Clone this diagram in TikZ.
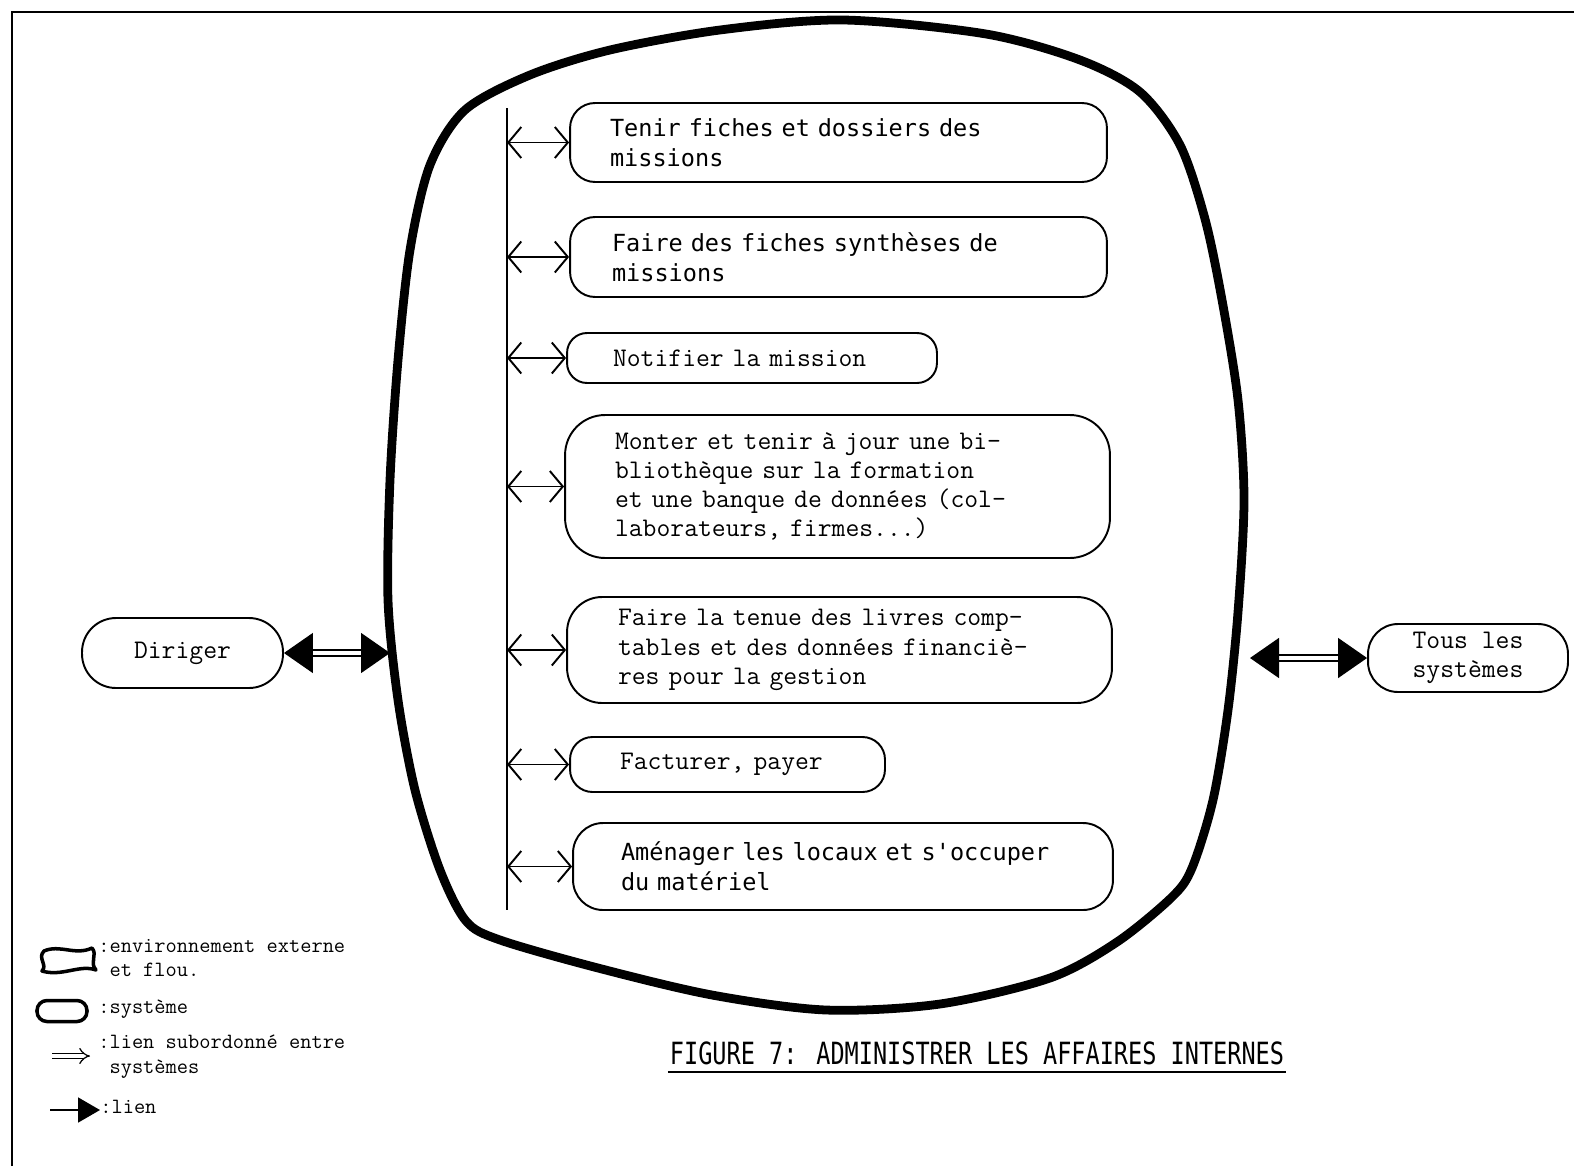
\documentclass[tikz,border=0pt]{standalone}
\usepackage{fontspec}
\newfontfamily\condfont{DejaVu Sans Mono}
\usetikzlibrary{arrows.meta}
\begin{document}
\begin{tikzpicture}[x=0.02cm,y=-0.02cm,
  sysbox/.style={draw, line width=1.1pt, align=left, inner xsep=0pt, inner ysep=0pt},
  courtext/.style={font=\ttfamily\fontsize{15.3}{16.6}\selectfont},
  condtext/.style={font=\condfont\fontsize{13.4}{17}\selectfont},
  legtext/.style={font=\ttfamily\fontsize{12.4}{14.2}\selectfont, align=left, inner sep=0pt, anchor=west},
  innerlink/.style={line width=0.75pt, {Straight Barb[length=0.26cm,width=0.62cm,line width=1.1pt]}-{Straight Barb[length=0.26cm,width=0.62cm,line width=1.1pt]}},
  mainlink/.style={double, double distance=2.4pt, line width=0.8pt, {Triangle[length=0.58cm,width=0.8cm]}-{Triangle[length=0.58cm,width=0.8cm]}}
]
\useasboundingbox (0,0) rectangle (1574,1166);
\fill[white] (0,0) rectangle (1574,1166);
% frame
\draw[line width=1.5pt] (12,1166) -- (12,12) -- (1574,12);
% main blob
\draw[line width=5pt, line join=round] plot[smooth cycle, tension=0.5] coordinates {
 (843,20) (986,34) (1080,60) (1140,92) (1180,145) (1205,219) (1222,300) (1238,400)
 (1244,500) (1238,612) (1228,710) (1213,800) (1192,868) (1172,897) (1117,942) (1050,978)
 (940,1004) (826,1010) (712,995) (598,968) (500,940) (466,921) (440,870) (415,790)
 (398,700) (388,600) (390,480) (398,360) (410,250) (430,165) (465,110) (530,75)
 (610,50) (720,30)};
% vertical line
\coordinate (vtop) at (507,108);
\coordinate (vbot) at (507,910);
\draw[line width=0.8pt] (vtop) -- (vbot);
% boxes
\node[sysbox, condtext, rounded corners=0.5cm, minimum width=10.74cm, minimum height=1.58cm, text width=9.14cm] (b1) at (838.5,142.5)
 {Tenir fiches et dossiers des\\missions};
\node[sysbox, condtext, rounded corners=0.5cm, minimum width=10.74cm, minimum height=1.6cm, text width=9.06cm] (b2) at (838.5,257)
 {Faire des fiches synthèses de\\missions};
\node[sysbox, courtext, rounded corners=0.4cm, minimum width=7.4cm, minimum height=1.0cm, text width=5.56cm] (b3) at (752,358)
 {Notifier la mission};
\node[sysbox, courtext, rounded corners=0.8cm, minimum width=10.9cm, minimum height=2.86cm, text width=8.9cm] (b4) at (837.5,486.5)
 {Monter et tenir à jour une bi-\\bliothèque sur la formation\\et une banque de données (col-\\laborateurs, firmes...)};
\node[sysbox, courtext, rounded corners=0.7cm, minimum width=10.9cm, minimum height=2.12cm, text width=8.86cm] (b5) at (839.5,650)
 {Faire la tenue des livres comp-\\tables et des données financiè-\\res pour la gestion};
\node[sysbox, courtext, rounded corners=0.45cm, minimum width=6.3cm, minimum height=1.1cm, text width=4.3cm] (b6) at (727.5,764.5)
 {Facturer, payer};
\node[sysbox, condtext, rounded corners=0.6cm, minimum width=10.8cm, minimum height=1.74cm, text width=8.88cm] (b7) at (843,866.5)
 {Aménager les locaux et s'occuper\\du matériel};
% inner links
\foreach \b in {b1,b2,b3,b4,b5,b6,b7}
  \draw[innerlink] (vtop |- \b.west) -- (\b.west);
% outer systems
\node[sysbox, courtext, align=center, rounded corners=0.68cm, minimum width=4.02cm, minimum height=1.4cm] (dir) at (182.5,653) {Diriger};
\node[sysbox, align=center, rounded corners=0.6cm, minimum width=4.0cm, minimum height=1.36cm, font=\ttfamily\fontsize{15.3}{16.4}\selectfont] (tous) at (1468,658) {Tous les\\systèmes};
\coordinate (bl) at (390,653);
\coordinate (br) at (1250,658);
\draw[mainlink] (dir.east) -- (bl);
\draw[mainlink] (br) -- (tous.west);
% title
\node[font=\condfont\fontsize{13.4}{16}\selectfont, inner sep=1pt] (title) at (977,1053)
 {\scalebox{1}[1.3]{FIGURE 7: ADMINISTRER LES AFFAIRES INTERNES}};
\draw[line width=0.8pt] ([yshift=-3pt]title.south west) -- ([yshift=-3pt]title.south east);
% legend
\draw[line width=2pt, line join=round] (44,951) .. controls (60,944) and (75,956) .. (92,948)
  .. controls (98,955) and (89,962) .. (96,970) .. controls (80,964) and (62,977) .. (42,971)
  .. controls (48,965) and (37,958) .. (44,951) -- cycle;
\node[legtext] (l1) at (98,958) {:environnement externe\\\phantom{:}et flou.};
\node[draw, line width=2pt, rounded corners=0.2cm, minimum width=1.0cm, minimum height=0.42cm, inner sep=0pt] (legsys) at (62,1011) {};
\node[legtext] (l2) at (98,1009) {:système};
\coordinate (la) at (52,1056);
\coordinate (lb) at (90,1056);
\draw[double, double distance=2.5pt, line width=0.7pt, -{Implies}] (la) -- (lb);
\node[legtext] (l3) at (98,1057) {:lien subordonné entre\\\phantom{:}systèmes};
\coordinate (lc) at (50,1110);
\coordinate (ld) at (100,1110);
\draw[line width=1pt, -{Triangle[length=0.44cm,width=0.5cm]}] (lc) -- (ld);
\node[legtext] (l4) at (100,1107) {:lien};
\end{tikzpicture}
\end{document}
